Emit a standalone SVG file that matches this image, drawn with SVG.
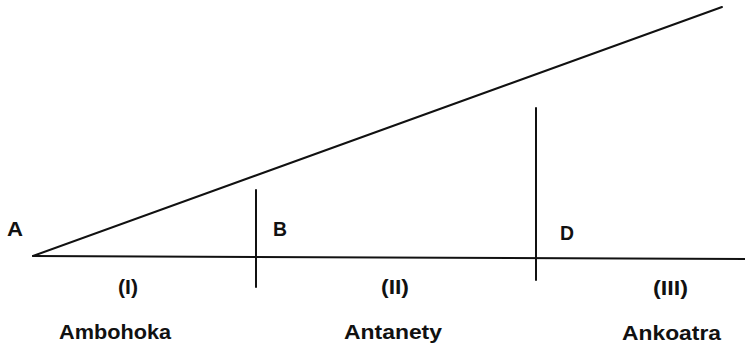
<svg xmlns="http://www.w3.org/2000/svg" width="745" height="347" viewBox="0 0 745 347">
<style>
.ln{stroke:#111;stroke-width:2;fill:none;stroke-linecap:round}
.t{font-family:"Liberation Sans",Arial,sans-serif;font-weight:bold;font-size:20px;fill:#111}
</style>
<rect width="745" height="347" fill="#fff"/>
<g id="connectors">
<line class="ln" x1="33" y1="256" x2="722" y2="7"/>
<line class="ln" x1="33" y1="256" x2="745" y2="259"/>
<line class="ln" x1="256" y1="190" x2="256" y2="287"/>
<line class="ln" x1="536" y1="108" x2="536" y2="280"/>
</g>
<g id="A"><text class="t" x="7" y="236" textLength="16" lengthAdjust="spacingAndGlyphs">A</text></g>
<g id="B"><text class="t" x="273" y="236" textLength="14" lengthAdjust="spacingAndGlyphs">B</text></g>
<g id="D"><text class="t" x="560" y="240" textLength="14" lengthAdjust="spacingAndGlyphs">D</text></g>
<g id="I"><text class="t" x="118" y="294" textLength="20" lengthAdjust="spacingAndGlyphs">(I)</text></g>
<g id="II"><text class="t" x="381" y="294" textLength="28" lengthAdjust="spacingAndGlyphs">(II)</text></g>
<g id="III"><text class="t" x="653" y="295" textLength="35" lengthAdjust="spacingAndGlyphs">(III)</text></g>
<g id="Ambohoka"><text class="t" x="59" y="339" textLength="112" lengthAdjust="spacingAndGlyphs">Ambohoka</text></g>
<g id="Antanety"><text class="t" x="344" y="339" textLength="98" lengthAdjust="spacingAndGlyphs">Antanety</text></g>
<g id="Ankoatra"><text class="t" x="622" y="340" textLength="99" lengthAdjust="spacingAndGlyphs">Ankoatra</text></g>
</svg>
